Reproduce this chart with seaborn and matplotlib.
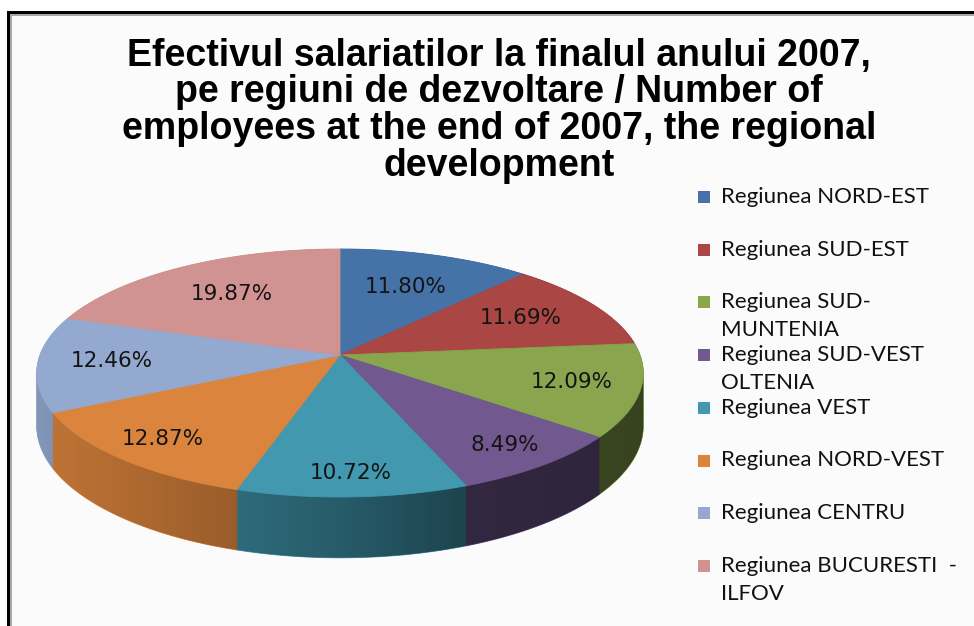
import numpy as np
import matplotlib
matplotlib.use("Agg")
import matplotlib.pyplot as plt
import seaborn as sns
from matplotlib.patches import Polygon, Rectangle

# ---- data -------------------------------------------------------------
regions = [
    "Regiunea NORD-EST",
    "Regiunea SUD-EST",
    "Regiunea SUD-\nMUNTENIA",
    "Regiunea SUD-VEST\nOLTENIA",
    "Regiunea VEST",
    "Regiunea NORD-VEST",
    "Regiunea CENTRU",
    "Regiunea BUCURESTI  -\nILFOV",
]
shares = [11.80, 11.69, 12.09, 8.49, 10.72, 12.87, 12.46, 19.87]
colors = ["#4572A7", "#AA4643", "#89A54E", "#71588F",
          "#4198AF", "#DB843D", "#93A9CF", "#D19392"]
title_lines = [
    "Efectivul salariatilor la finalul anului 2007,",
    "pe regiuni de dezvoltare / Number of",
    "employees at the end of 2007, the regional",
    "development",
]

# ---- figure in pixel coordinates --------------------------------------
sns.set_theme(style="white")
W, H = 974, 626
fig = plt.figure(figsize=(W / 100, H / 100), dpi=100)
fig.patch.set_facecolor("white")
ax = fig.add_axes([0, 0, 1, 1])

# chart panel with its border
ax.add_patch(Rectangle((8, 12), W, H, facecolor="#fbfbfb", edgecolor="none", zorder=0))
ax.add_patch(Rectangle((7, 11), 3, H, facecolor="black", edgecolor="none", zorder=0.5))
ax.add_patch(Rectangle((7, 11), W, 3, facecolor="black", edgecolor="none", zorder=0.5))
ax.add_patch(Rectangle((10, 14), 2, H, facecolor="#a8a8a8", edgecolor="none", zorder=0.5))
ax.add_patch(Rectangle((10, 14), W, 2, facecolor="#a8a8a8", edgecolor="none", zorder=0.5))

# ---- pie: angles from matplotlib, then a tilted perspective view ------
wedges, _, autotexts = ax.pie(shares, startangle=90, counterclock=False,
                              radius=1, center=(0, 0), autopct="%.2f%%",
                              pctdistance=0.75, frame=True)

CX, CY = 340, 355            # projected pie centre
A, B, K = 121.4, 300, 0.145  # vertical / horizontal radius, perspective
DEPTH = 52                   # thickness of the disc


def project(u, v, drop=0.0):
    s = 1.0 / (1.0 + K * v)
    return CX + B * u * s, CY - A * v * s + drop * s


def wedge_outline(t1, t2, drop):
    th = np.radians(np.linspace(t1, t2, 80))
    u = np.concatenate([[0.0], np.cos(th)])
    v = np.concatenate([[0.0], np.sin(th)])
    x, y = project(u, v, drop)
    return np.column_stack([x, y])


angles = [(w.theta1, w.theta2) for w in wedges]
for w in wedges:
    w.remove()

# side of the disc: stacked layers from the bottom up
for drop in np.linspace(DEPTH, 0.5, 45):
    for (t1, t2), c in zip(angles, colors):
        ax.add_patch(Polygon(wedge_outline(t1, t2, drop), closed=True,
                             facecolor=c, edgecolor=c, linewidth=0.6, zorder=1))

# shading of the side, lighter on the left, darker on the right
th = np.linspace(0, 2 * np.pi, 360)
pts = np.vstack([np.column_stack(project(np.cos(th), np.sin(th), d)) for d in (0, DEPTH)])
pts = pts[np.lexsort((pts[:, 1], pts[:, 0]))]


def _cross(o, a, b):
    return (a[0] - o[0]) * (b[1] - o[1]) - (a[1] - o[1]) * (b[0] - o[0])


lower, upper = [], []
for p in pts:
    while len(lower) >= 2 and _cross(lower[-2], lower[-1], p) <= 0:
        lower.pop()
    lower.append(tuple(p))
for p in pts[::-1]:
    while len(upper) >= 2 and _cross(upper[-2], upper[-1], p) <= 0:
        upper.pop()
    upper.append(tuple(p))
hull = np.array(lower[:-1] + upper[:-1])
hull_patch = Polygon(hull, closed=True, facecolor="none", edgecolor="none")
ax.add_patch(hull_patch)

xs = np.linspace(0, W, 512)
alpha = np.interp(xs, [40, 237, 340, 460, 640], [0.12, 0.30, 0.40, 0.55, 0.60])
shade = np.zeros((1, len(xs), 4))
shade[0, :, 3] = alpha
img = ax.imshow(shade, extent=(0, W, H, 0), aspect="auto", zorder=2,
                interpolation="bilinear")
img.set_clip_path(hull_patch)

# top face
for (t1, t2), c in zip(angles, colors):
    ax.add_patch(Polygon(wedge_outline(t1, t2, 0), closed=True,
                         facecolor=c, edgecolor=c, linewidth=0.6, zorder=3))

# percentage labels, pushed outward toward the viewer
for txt, (t1, t2) in zip(autotexts, angles):
    mid = np.radians((t1 + t2) / 2)
    r = 0.75 - 0.10 * np.sin(mid)
    x, y = project(r * np.cos(mid), r * np.sin(mid))
    txt.set_position((x, y))
    txt.set_fontsize(15.5)
    txt.set_color("#141414")
    txt.set_family("DejaVu Sans")
    txt.set_zorder(4)

# ---- title -------------------------------------------------------------
for j, line in enumerate(title_lines):
    ax.text(499, 66 + j * 36.5, line, ha="center", va="baseline", fontsize=27,
            fontweight="bold", family="Liberation Sans", color="black", zorder=5)

# ---- legend ------------------------------------------------------------
LEG_BASE, LEG_STEP, LINE_STEP = 203, 52.7, 28
for i, (name, c) in enumerate(zip(regions, colors)):
    yb = LEG_BASE + i * LEG_STEP
    ax.add_patch(Rectangle((698, yb - 12), 12, 12, facecolor=c, edgecolor="none", zorder=5))
    for j, line in enumerate(name.split("\n")):
        ax.text(721, yb + j * LINE_STEP, line, ha="left", va="baseline", fontsize=16,
                family="Lato", color="#111111", zorder=5)

ax.set_aspect("auto")
ax.set_xlim(0, W)
ax.set_ylim(H, 0)
ax.axis("off")

fig.savefig("out.png", dpi=100, facecolor="white")
